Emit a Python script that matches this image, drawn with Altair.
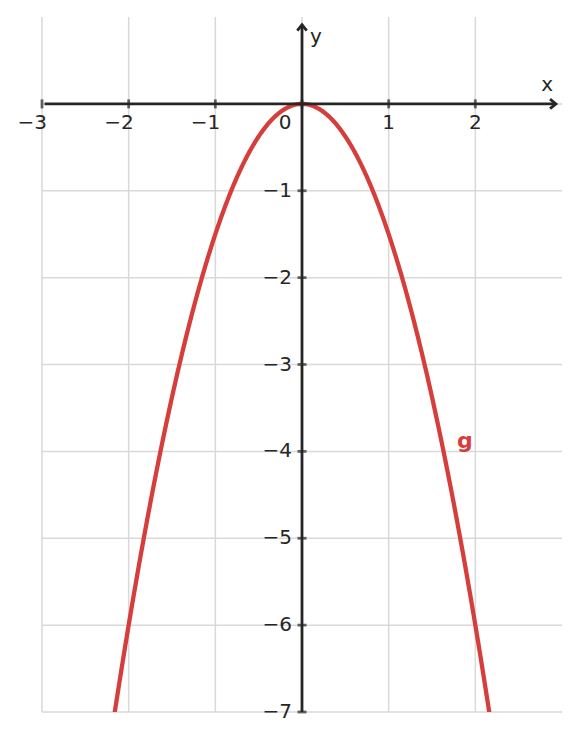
import altair as alt
import pandas as pd
import numpy as np

# data
coef_a = -1.5          # g(x) = a * x^2
x_domain = [-3, 3]
y_domain = [-7, 1]
x_grid = [-3, -2, -1, 0, 1, 2]
y_grid = [0, -1, -2, -3, -4, -5, -6, -7]
x_ticks = [-3, -2, -1, 0, 1, 2]
y_ticks = [-1, -2, -3, -4, -5, -6, -7]
x_neg_labels = [-3, -2, -1]
x_pos_labels = [1, 2]
axis_x_end = 2.93
axis_y_end = 0.91
curve_label = {"x": 1.88, "y": -3.88, "t": "g"}

AX = "#262626"
GRID = "#d9d9d9"
RED = "#d63e3b"
FONT = "DejaVu Sans"
FS = 20

xs = alt.Scale(domain=x_domain, nice=False, zero=False)
ys = alt.Scale(domain=y_domain, nice=False, zero=False)

def X(f="x"):
    return alt.X(f"{f}:Q", scale=xs, axis=None)

def Y(f="y"):
    return alt.Y(f"{f}:Q", scale=ys, axis=None)

vgrid = alt.Chart(pd.DataFrame({"x": x_grid, "y": y_domain[0], "y2": y_domain[1]})).mark_rule(
    color=GRID, strokeWidth=1.5).encode(x=X(), y=Y(), y2="y2:Q")
hgrid = alt.Chart(pd.DataFrame({"y": y_grid, "x": x_domain[0], "x2": x_domain[1]})).mark_rule(
    color=GRID, strokeWidth=1.5).encode(y=Y(), x=X(), x2="x2:Q")

cx = np.linspace(-2.3, 2.3, 461)
curve_df = pd.DataFrame({"x": cx, "y": coef_a * cx ** 2})
curve = alt.Chart(curve_df).mark_line(
    color=RED, strokeWidth=4.3, clip=True).encode(x=X(), y=Y(), order="x:Q")

xaxis = alt.Chart(pd.DataFrame({"x": [x_domain[0] + 0.03], "x2": [axis_x_end], "y": [0]})).mark_rule(
    color=AX, strokeWidth=2.8).encode(x=X(), x2="x2:Q", y=Y())
yaxis = alt.Chart(pd.DataFrame({"y": [y_domain[0]], "y2": [axis_y_end], "x": [0]})).mark_rule(
    color=AX, strokeWidth=2.8).encode(y=Y(), y2="y2:Q", x=X())

arrow_path = "M -1 -0.8 L 0 0 L -1 0.8"
xarrow = alt.Chart(pd.DataFrame({"x": [axis_x_end], "y": [0]})).mark_point(
    shape=arrow_path, size=140, filled=False, stroke=AX, strokeWidth=2.8,
    opacity=1).encode(x=X(), y=Y())
yarrow = alt.Chart(pd.DataFrame({"x": [0], "y": [axis_y_end]})).mark_point(
    shape=arrow_path, size=140, filled=False, stroke=AX, strokeWidth=2.8,
    opacity=1, angle=270).encode(x=X(), y=Y())

xt = alt.Chart(pd.DataFrame({"x": x_ticks, "y": 0})).mark_tick(
    orient="vertical", size=9, thickness=2.8, color=AX).encode(x=X(), y=Y())
yt = alt.Chart(pd.DataFrame({"y": y_ticks, "x": 0})).mark_tick(
    orient="horizontal", size=9, thickness=2.8, color=AX).encode(y=Y(), x=X())

def txt(df, **kw):
    base = dict(font=FONT, fontSize=FS, color=AX, baseline="middle")
    base.update(kw)
    return alt.Chart(df).mark_text(**base).encode(x=X(), y=Y(), text="t:N")

xneg = txt(pd.DataFrame({"x": x_neg_labels, "y": [0] * len(x_neg_labels),
                         "t": ["\u2212" + str(abs(v)) for v in x_neg_labels]}),
           align="right", dx=5, dy=19)
xpos = txt(pd.DataFrame({"x": x_pos_labels, "y": [0] * len(x_pos_labels),
                         "t": [str(v) for v in x_pos_labels]}),
           align="center", dy=19)
xzero = txt(pd.DataFrame({"x": [0], "y": [0], "t": ["0"]}),
            align="center", dx=-17, dy=19)
ylab = txt(pd.DataFrame({"x": [0] * len(y_ticks), "y": y_ticks,
                         "t": ["\u2212" + str(abs(v)) for v in y_ticks]}),
           align="right", dx=-10)
xname = txt(pd.DataFrame({"x": [2.83], "y": [0.22], "t": ["x"]}), align="center")
yname = txt(pd.DataFrame({"x": [0.16], "y": [0.77], "t": ["y"]}), align="center")
glab = alt.Chart(pd.DataFrame({"x": [curve_label["x"]], "y": [curve_label["y"]],
                               "t": [curve_label["t"]]})).mark_text(
    font=FONT, fontSize=22, fontWeight="bold", color=RED, align="center",
    baseline="middle").encode(x=X(), y=Y(), text="t:N")

chart = alt.layer(vgrid, hgrid, curve, xaxis, yaxis, xarrow, yarrow, xt, yt,
                  xneg, xpos, xzero, ylab, xname, yname, glab).properties(
    width=520, height=695,
    autosize=alt.AutoSizeParams(type="none"),
    padding={"left": 34, "top": 9, "right": 5, "bottom": 10},
).configure_view(stroke=None)

chart.save("out.html", embed_options={"renderer": "svg", "actions": False})
